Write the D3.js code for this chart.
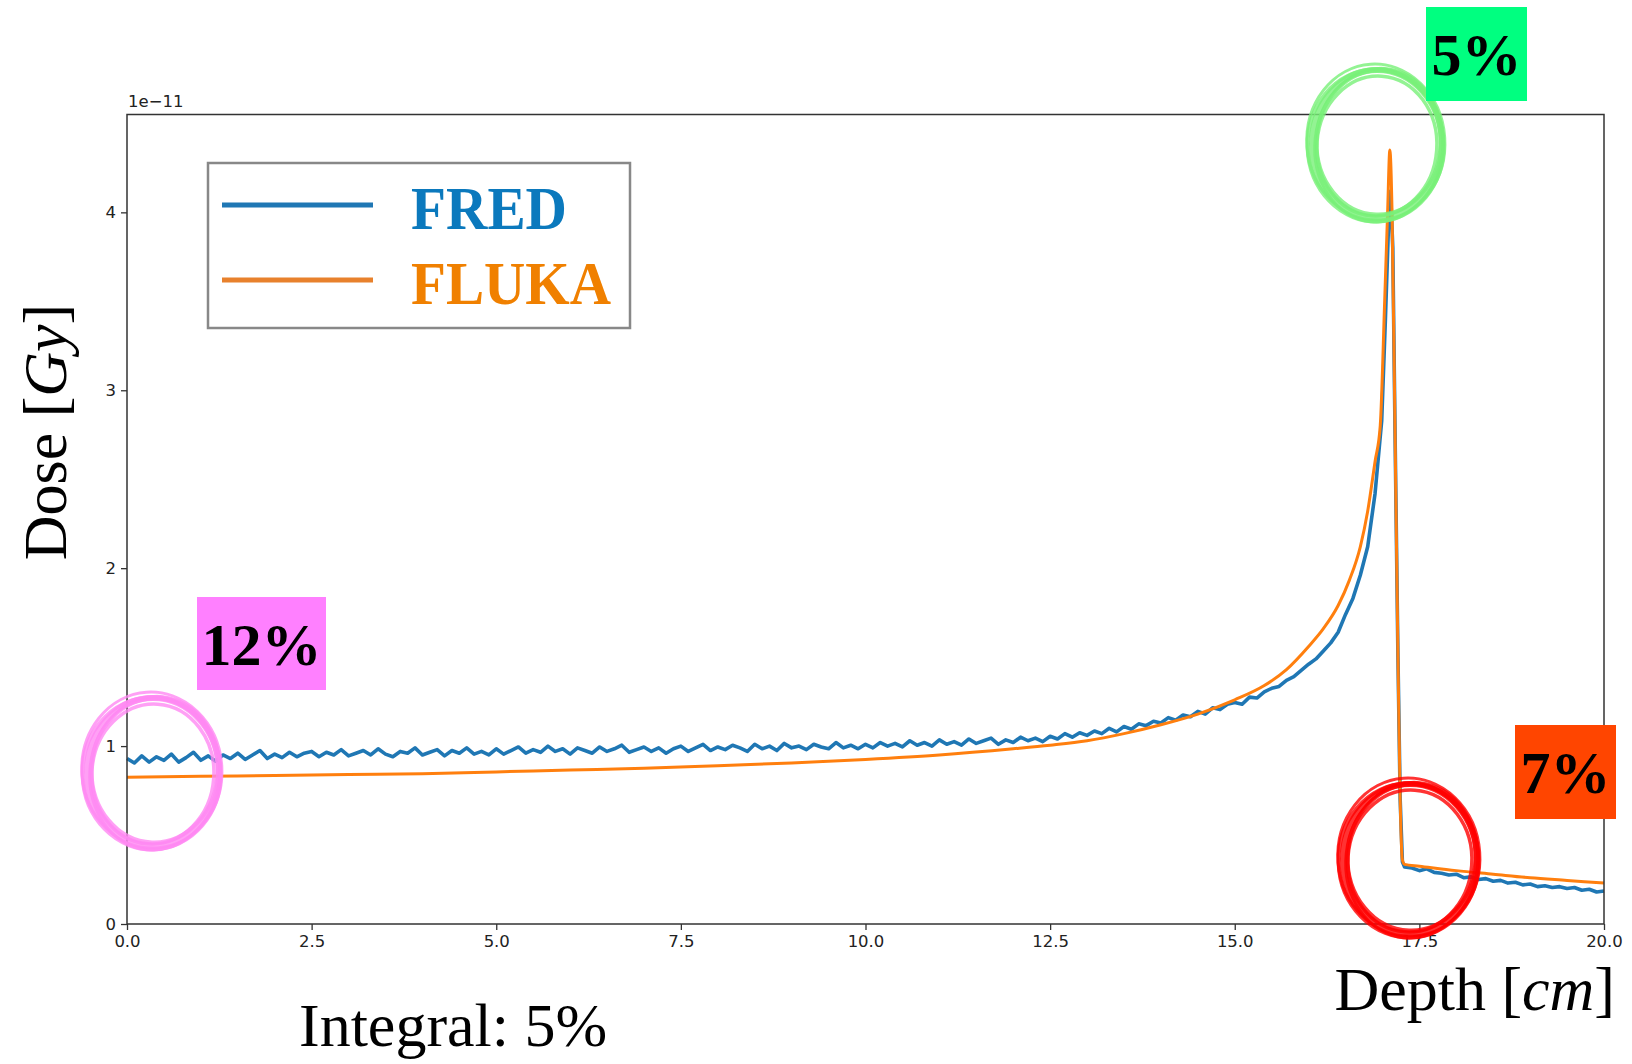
<!DOCTYPE html>
<html>
<head>
<meta charset="utf-8">
<script src="https://cdn.jsdelivr.net/npm/d3@7"></script>
<style>
  html, body { margin: 0; padding: 0; background: #fff; }
  svg { display: block; }
</style>
</head>
<body>
<svg id="chart" width="1632" height="1064"></svg>
<script>
// ---------------- DATA ----------------
const xTicks = [0.0, 2.5, 5.0, 7.5, 10.0, 12.5, 15.0, 17.5, 20.0];
const yTicks = [0, 1, 2, 3, 4];
const yExponentLabel = "1e\u221211";
const seriesNames = ["FRED", "FLUKA"];

// FRED (Monte Carlo, noisy) - depth [cm], dose [1e-11 Gy]
const fredDepth = [
  0.0,0.1,0.2,0.3,0.4,0.5,0.6,0.7,0.8,0.9,1.0,1.1,1.2,1.3,1.4,1.5,1.6,1.7,1.8,1.9,2.0,2.1,2.2,2.3,2.4,
  2.5,2.6,2.7,2.8,2.9,3.0,3.1,3.2,3.3,3.4,3.5,3.6,3.7,3.8,3.9,4.0,4.1,4.2,4.3,4.4,4.5,4.6,4.7,4.8,4.9,
  5.0,5.1,5.2,5.3,5.4,5.5,5.6,5.7,5.8,5.9,6.0,6.1,6.2,6.3,6.4,6.5,6.6,6.7,6.8,6.9,7.0,7.1,7.2,7.3,7.4,
  7.5,7.6,7.7,7.8,7.9,8.0,8.1,8.2,8.3,8.4,8.5,8.6,8.7,8.8,8.9,9.0,9.1,9.2,9.3,9.4,9.5,9.6,9.7,9.8,9.9,
  10.0,10.1,10.2,10.3,10.4,10.5,10.6,10.7,10.8,10.9,11.0,11.1,11.2,11.3,11.4,11.5,11.6,11.7,11.8,11.9,12.0,12.1,12.2,12.3,12.4,
  12.5,12.6,12.7,12.8,12.9,13.0,13.1,13.2,13.3,13.4,
  13.5,13.6,13.7,13.8,13.9,14.0,14.1,14.2,14.3,14.4,
  14.5,14.6,14.7,14.8,14.9,15.0,15.1,15.2,15.3,15.4,15.5,15.6,15.7,15.8,15.9,
  16.0,16.1,16.2,16.3,16.4,16.5,16.6,16.7,16.8,16.9,
  16.99,17.04,17.08,17.11,17.14,17.17,17.21,17.24,17.27,17.3,
  17.4,17.5,17.6,17.7,17.8,17.9,18.0,18.1,18.2,18.3,18.4,18.5,18.6,18.7,18.8,18.9,
  19.0,19.1,19.2,19.3,19.4,19.5,19.6,19.7,19.8,19.9,20.0
];
const fredDose = [
  0.93,0.905,0.945,0.91,0.94,0.92,0.955,0.91,0.935,0.965,0.92,0.945,0.915,0.95,0.93,0.96,0.925,0.95,0.975,0.93,0.955,0.935,0.965,0.94,0.96,
  0.97,0.94,0.965,0.95,0.98,0.945,0.96,0.975,0.95,0.985,0.955,0.94,0.97,0.96,0.99,0.95,0.965,0.98,0.945,0.975,0.96,0.99,0.955,0.97,0.95,
  0.985,0.955,0.975,0.995,0.96,0.98,0.965,1.0,0.97,0.985,0.955,0.99,0.975,0.96,0.995,0.97,0.985,1.005,0.965,0.98,0.995,0.97,0.99,0.96,0.985,
  1.0,0.97,0.99,1.01,0.975,0.995,0.98,1.005,0.99,0.97,1.01,0.985,1.0,0.975,1.015,0.99,1.0,0.98,1.01,0.995,0.985,1.02,0.99,1.005,0.985,
  1.01,0.99,1.02,1.0,1.015,0.995,1.03,1.005,1.02,1.0,1.035,1.01,1.025,1.005,1.04,1.015,1.03,1.045,1.01,1.035,1.02,1.05,1.03,1.045,1.025,
  1.055,1.04,1.07,1.05,1.075,1.06,1.085,1.07,1.1,1.08,
  1.11,1.095,1.125,1.115,1.14,1.13,1.16,1.145,1.175,1.165,
  1.195,1.18,1.215,1.205,1.235,1.245,1.235,1.275,1.27,1.305,1.325,1.335,1.37,1.39,1.425,
  1.46,1.49,1.535,1.58,1.64,1.74,1.83,1.96,2.12,2.42,
  2.83,3.4,3.9,4.12,3.8,2.78,1.5,0.7,0.35,0.32,
  0.315,0.30,0.31,0.29,0.285,0.275,0.28,0.26,0.265,0.25,0.255,0.24,0.245,0.23,0.235,0.22,
  0.225,0.21,0.215,0.205,0.21,0.2,0.205,0.19,0.195,0.18,0.185
];

// FLUKA (smooth reference)
const flukaDepth = [0,1,2,3,4,5,6,7,8,9,10,11,12,12.5,13,13.5,14,14.5,15,15.4,15.7,16.0,16.2,16.4,16.55,16.7,16.8,16.9,16.97,17.03,17.07,17.10,17.13,17.17,17.21,17.24,17.27,17.3,17.5,18.0,18.5,19.0,19.5,20.0];
const flukaDose  = [0.825,0.83,0.835,0.84,0.845,0.855,0.865,0.875,0.89,0.905,0.925,0.95,0.985,1.005,1.03,1.07,1.12,1.18,1.26,1.34,1.43,1.56,1.66,1.79,1.93,2.12,2.32,2.6,2.8,3.5,4.0,4.35,4.0,2.78,1.5,0.7,0.36,0.335,0.325,0.30,0.28,0.26,0.245,0.23];

// annotations
const annotLabels = ["5%", "12%", "7%"];
const integralLabel = "Integral: 5%";

// ---------------- DRAW ----------------
const svg = d3.select("#chart");
const W = 1632, H = 1064;
const L = 127, R = 1604, T = 114.5, B = 924;

const x = d3.scaleLinear().domain([0, 20]).range([L, R]);
const y = d3.scaleLinear().domain([0, 4.55]).range([B, T]);

svg.append("rect").attr("width", W).attr("height", H).attr("fill", "#fff");

// axes
const xAxis = d3.axisBottom(x).tickValues(xTicks).tickFormat(d => d.toFixed(1)).tickSize(6).tickPadding(5);
const yAxis = d3.axisLeft(y).tickValues(yTicks).tickFormat(d3.format("d")).tickSize(6).tickPadding(5);

const gx = svg.append("g").attr("transform", `translate(0,${B})`).call(xAxis);
const gy = svg.append("g").attr("transform", `translate(${L},0)`).call(yAxis);
[gx, gy].forEach(g => {
  g.select(".domain").remove();
  g.selectAll(".tick line").attr("stroke", "#333").attr("stroke-width", 1.3);
  g.selectAll(".tick text").attr("fill", "#222")
    .style("font-family", "'DejaVu Sans', sans-serif").style("font-size", "16.5px");
});

// lines
const fredData = fredDepth.map((d, i) => [d, fredDose[i]]);
const flukaData = flukaDepth.map((d, i) => [d, flukaDose[i]]);

const lineLin = d3.line().x(d => x(d[0])).y(d => y(d[1]));
const lineSmooth = d3.line().x(d => x(d[0])).y(d => y(d[1])).curve(d3.curveMonotoneX);

const plot = svg.append("g");
plot.append("path").datum(fredData).attr("d", lineLin)
  .attr("fill", "none").attr("stroke", "#1f77b4").attr("stroke-width", 3.6).attr("stroke-linejoin", "round");
plot.append("path").datum(flukaData).attr("d", lineSmooth)
  .attr("fill", "none").attr("stroke", "#ff7f0e").attr("stroke-width", 3).attr("stroke-linejoin", "round");

// frame
svg.append("rect").attr("x", L).attr("y", T).attr("width", R - L).attr("height", B - T)
  .attr("fill", "none").attr("stroke", "#333").attr("stroke-width", 1.5);

// exponent label
svg.append("text").attr("x", L + 1).attr("y", 107).text(yExponentLabel)
  .style("font-family", "'DejaVu Sans', sans-serif").style("font-size", "16.5px").attr("fill", "#222");

// legend
const lg = svg.append("g");
lg.append("rect").attr("x", 208).attr("y", 163).attr("width", 422).attr("height", 165)
  .attr("fill", "#fff").attr("stroke", "#888").attr("stroke-width", 2.5);
const legendColors = ["#1f77b4", "#e8812c"];
const legendText = ["#0b79bd", "#f08000"];
const legendY = [205, 280];
const legendW = [156, 200];
seriesNames.forEach((n, i) => {
  lg.append("line").attr("x1", 222).attr("x2", 373).attr("y1", legendY[i]).attr("y2", legendY[i])
    .attr("stroke", legendColors[i]).attr("stroke-width", 5);
  lg.append("text").attr("x", 411).attr("y", legendY[i] + 24).text(n)
    .attr("textLength", legendW[i]).attr("lengthAdjust", "spacingAndGlyphs")
    .attr("fill", legendText[i])
    .style("font-family", "'Liberation Serif', serif").style("font-weight", "bold").style("font-size", "62px");
});

// axis titles
const serif = "'Liberation Serif', 'Times New Roman', serif";
const yt = svg.append("text").attr("transform", "translate(66,432) rotate(-90)")
  .attr("text-anchor", "middle").style("font-family", serif).style("font-size", "62px").attr("fill", "#000");
yt.append("tspan").text("Dose [");
yt.append("tspan").text("Gy").style("font-style", "italic");
yt.append("tspan").text("]");

const xt = svg.append("text").attr("x", 1615).attr("y", 1010)
  .attr("text-anchor", "end").style("font-family", serif).style("font-size", "62px").attr("fill", "#000");
xt.append("tspan").text("Depth [");
xt.append("tspan").text("cm").style("font-style", "italic");
xt.append("tspan").text("]");

svg.append("text").attr("x", 299).attr("y", 1046).text(integralLabel)
  .style("font-family", serif).style("font-size", "62px").attr("fill", "#000");

// hand-drawn rings
const ringStrokes = [
  [0, 0, 0, 0, 6, 0],
  [1.5, -1.5, -3, -2, 4, 2],
  [-1.5, 1.5, 3, 2, 4, -2],
  [0, 2, -5, -4, 3.5, 4],
  [-1, -2, 4, 4, 3, -4],
  [2, 1, -1, 3, 3, 6]
];
function ring(cx, cy, rx, ry, color) {
  const g = svg.append("g");
  ringStrokes.forEach(s => {
    g.append("ellipse").attr("cx", cx + s[0]).attr("cy", cy + s[1])
      .attr("rx", rx + s[2]).attr("ry", ry + s[3])
      .attr("transform", `rotate(${s[5]},${cx},${cy})`)
      .attr("fill", "none").attr("stroke", color).attr("stroke-width", s[4]).attr("opacity", 0.8);
  });
}
ring(1377, 144, 65, 74, "#78f078");
ring(153, 772, 66, 74, "#ff88f2");
ring(1410, 859, 67, 75, "#ff0000");

// annotation boxes
const boxes = [
  { x0: 1426, y0: 7, w: 101, h: 94, fill: "#00ff80" },
  { x0: 197, y0: 597, w: 129, h: 93, fill: "#ff80ff" },
  { x0: 1515, y0: 725, w: 101, h: 94, fill: "#ff4500" }
];
boxes.forEach((b, i) => {
  svg.append("rect").attr("x", b.x0).attr("y", b.y0).attr("width", b.w).attr("height", b.h).attr("fill", b.fill);
  svg.append("text").attr("x", b.x0 + b.w / 2).attr("y", b.y0 + b.h / 2 + 21)
    .attr("text-anchor", "middle").text(annotLabels[i])
    .style("font-family", serif).style("font-weight", "bold").style("font-size", "60px").attr("fill", "#000");
});
</script>
</body>
</html>
